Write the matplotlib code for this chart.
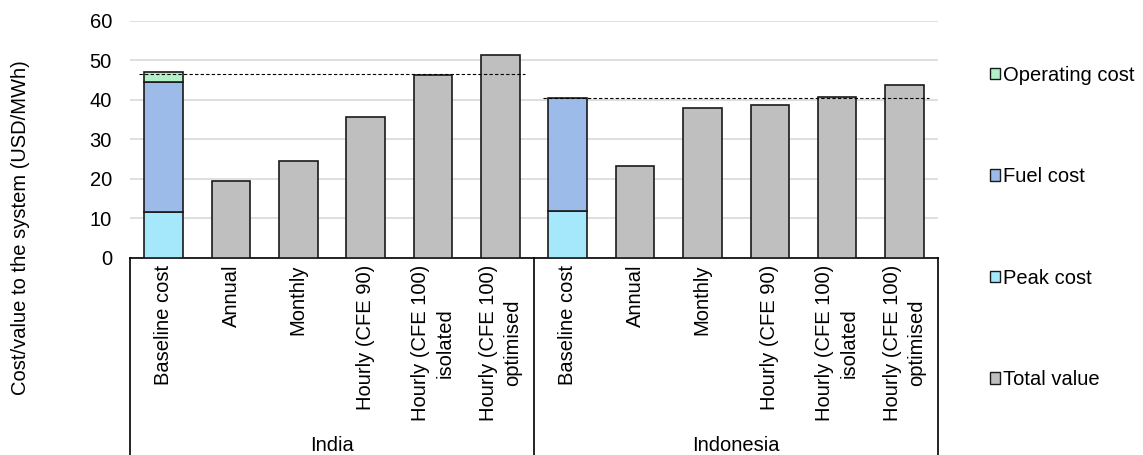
import matplotlib
matplotlib.use("Agg")
import matplotlib.pyplot as plt
from matplotlib.patches import Patch
from matplotlib.transforms import blended_transform_factory
import numpy as np

plt.rcParams["font.family"] = ["Liberation Sans", "DejaVu Sans"]
plt.rcParams["font.size"] = 14.5

countries = ["India", "Indonesia"]
scenarios = ["Baseline cost", "Annual", "Monthly", "Hourly (CFE 90)",
             "Hourly (CFE 100)\nisolated", "Hourly (CFE 100)\noptimised"]

# baseline cost components per country
peak_cost = [11.6, 11.8]
fuel_cost = [32.9, 28.7]
operating_cost = [2.5, 0.0]
# total value of each procurement option (Annual .. Hourly optimised)
total_value = [
    [19.5, 24.6, 35.7, 46.3, 51.5],
    [23.3, 37.9, 38.7, 40.7, 43.8],
]
baseline_ref = [46.5, 40.4]

c_peak = "#a6e8fb"
c_fuel = "#9dbbe8"
c_op = "#b3f2c9"
c_total = "#bfbfbf"
edge = "#1a1a1a"

fig = plt.figure(figsize=(11.43, 4.55), dpi=100)
ax = fig.add_axes([0.1137, 0.433, 0.707, 0.521])

n = len(scenarios)
width = 0.57
for g, country in enumerate(countries):
    x0 = g * n
    ax.bar(x0, peak_cost[g], width, color=c_peak, edgecolor=edge, linewidth=1.2, zorder=3)
    ax.bar(x0, fuel_cost[g], width, bottom=peak_cost[g], color=c_fuel,
           edgecolor=edge, linewidth=1.2, zorder=3)
    if operating_cost[g] > 0:
        ax.bar(x0, operating_cost[g], width, bottom=peak_cost[g] + fuel_cost[g],
               color=c_op, edgecolor=edge, linewidth=1.2, zorder=3)
    xs = np.arange(x0 + 1, x0 + n)
    ax.bar(xs, total_value[g], width, color=c_total, edgecolor=edge, linewidth=1.2, zorder=3)
    # reference line at the baseline cost level
    ax.plot([x0 - 0.37, x0 + n - 0.64], [baseline_ref[g]] * 2, color="black",
            linestyle=(0, (3, 2)), linewidth=0.8, zorder=4)

ax.set_xlim(-0.5, 2 * n - 0.5)
ax.set_ylim(0, 60)
ax.set_yticks(range(0, 61, 10))
ax.grid(axis="y", color="#d9d9d9", linewidth=1.2, zorder=0)
ax.set_axisbelow(True)
for s in ["left", "top", "right"]:
    ax.spines[s].set_visible(False)
ax.spines["bottom"].set_color("black")
ax.spines["bottom"].set_linewidth(1.2)
ax.tick_params(axis="y", length=0, pad=13)
ax.tick_params(axis="x", length=0, pad=5)

ax.set_xticks(range(2 * n))
ax.set_xticklabels(scenarios * 2, rotation=90, multialignment="center",
                   linespacing=1.35)

# two-level category axis: group boxes and group names
trans = blended_transform_factory(ax.transData, ax.transAxes)
for xb in [-0.5, n - 0.5, 2 * n - 0.5]:
    ax.plot([xb, xb], [0, -0.9], color="black", linewidth=1.2,
            transform=trans, clip_on=False)
for g, country in enumerate(countries):
    ax.text(g * n + (n - 1) / 2, -0.79, country, transform=trans,
            ha="center", va="center")

fig.text(0.018, 0.5, "Cost/value to the system (USD/MWh)", rotation=90,
         ha="center", va="center")

handles = [Patch(facecolor=c_op, edgecolor=edge, linewidth=1.0),
           Patch(facecolor=c_fuel, edgecolor=edge, linewidth=1.0),
           Patch(facecolor=c_peak, edgecolor=edge, linewidth=1.0),
           Patch(facecolor=c_total, edgecolor=edge, linewidth=1.0)]
labels = ["Operating cost", "Fuel cost", "Peak cost", "Total value"]
fig.legend(handles, labels, loc="center left", bbox_to_anchor=(0.866, 0.5),
           frameon=False, handlelength=0.5, handleheight=0.5,
           handletextpad=0.15, labelspacing=4.1, borderpad=0, borderaxespad=0)

fig.savefig("out.png", dpi=100)
